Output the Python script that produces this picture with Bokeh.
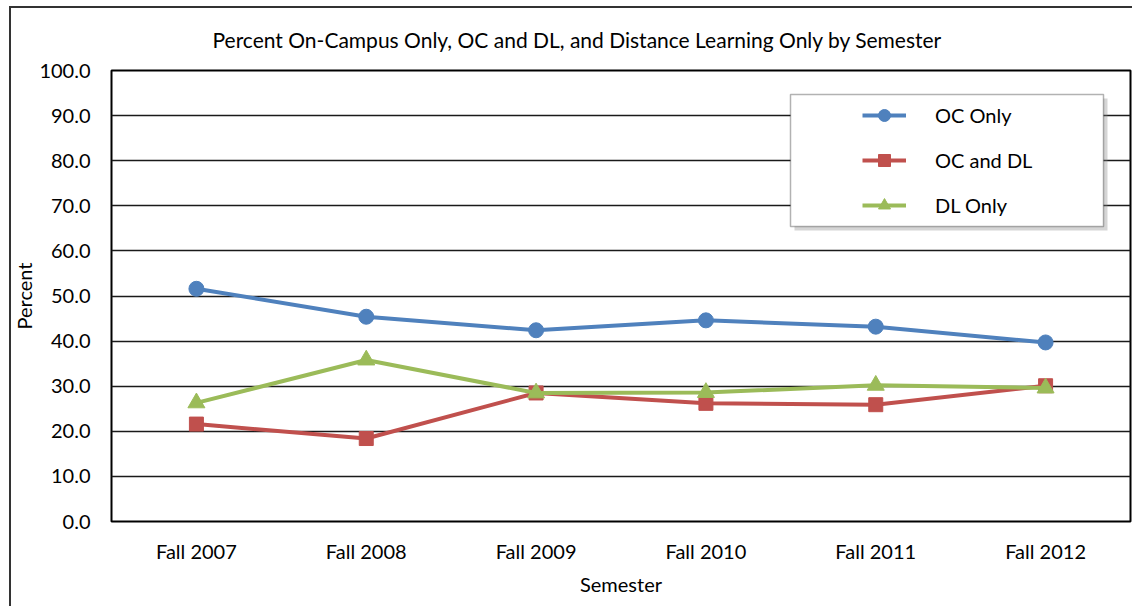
from bokeh.plotting import figure
from bokeh.models import (FactorRange, Range1d, NumeralTickFormatter, FixedTicker,
                          BoxAnnotation, Legend, InlineStyleSheet)
from bokeh.embed import file_html
from bokeh.resources import INLINE

# ---- data ----
semesters = ["Fall 2007", "Fall 2008", "Fall 2009", "Fall 2010", "Fall 2011", "Fall 2012"]
oc_only = [51.6, 45.4, 42.4, 44.6, 43.2, 39.7]
oc_and_dl = [21.6, 18.4, 28.5, 26.2, 25.9, 30.1]
dl_only = [26.3, 35.8, 28.5, 28.6, 30.2, 29.6]
y_ticks = [0, 10, 20, 30, 40, 50, 60, 70, 80, 90, 100]

title_text = "Percent On-Campus Only, OC and DL, and Distance Learning Only by Semester"
FONT = "Lato"
FS = "20px"

W, H = 1132, 606
L, R, T, B = 111, 2, 70, 85   # frame at page x 111..1130, y 70..521
FRAME_LEFT = L
FRAME_BOTTOM = H - B

border_css = InlineStyleSheet(css="""
:host { position: relative; overflow: hidden; }
:host::after { content: ''; position: absolute; left: 9px; top: 6px; right: -30px; bottom: -30px;
               border: 2px solid #333333; pointer-events: none; }
""")

p = figure(x_range=FactorRange(factors=semesters), y_range=Range1d(0, 100),
           width=W, height=H, output_backend="svg", toolbar_location=None,
           min_border_left=L, min_border_right=R, min_border_top=T, min_border_bottom=B,
           title=title_text, stylesheets=[border_css])

p.title.align = "left"
p.title.offset = 101
p.title.standoff = 38
p.title.text_font = FONT
p.title.text_font_size = "21px"
p.title.text_font_style = "normal"
p.title.text_color = "black"

p.background_fill_color = "white"
p.border_fill_color = "white"
p.outline_line_color = "black"
p.outline_line_width = 2

p.xgrid.grid_line_color = None
p.ygrid.grid_line_color = "#1a1a1a"
p.ygrid.grid_line_width = 1.5
p.yaxis.ticker = FixedTicker(ticks=y_ticks)
p.yaxis.formatter = NumeralTickFormatter(format="0.0")

for ax in (p.xaxis[0], p.yaxis[0]):
    ax.axis_line_color = None
    ax.major_tick_line_color = None
    ax.minor_tick_line_color = None
    ax.major_label_text_font = FONT
    ax.major_label_text_font_size = FS
    ax.major_label_text_color = "black"
    ax.axis_label_text_font = FONT
    ax.axis_label_text_font_size = FS
    ax.axis_label_text_font_style = "normal"
    ax.axis_label_text_color = "black"

p.xaxis.axis_label = "Semester"
p.yaxis.axis_label = "Percent"
p.xaxis.major_label_standoff = 11
p.xaxis.axis_label_standoff = 6
p.yaxis.major_label_standoff = 15
p.yaxis.axis_label_standoff = 0

colors = {"OC Only": "#4F81BD", "OC and DL": "#C0504D", "DL Only": "#9BBB59"}
series = [("OC Only", oc_only, "circle", 15),
          ("OC and DL", oc_and_dl, "square", 14),
          ("DL Only", dl_only, "triangle", 17)]

items = []
for name, vals, marker, size in series:
    c = colors[name]
    r1 = p.line(semesters, vals, line_color=c, line_width=4)
    r2 = p.scatter(semesters, vals, marker=marker, size=size, fill_color=c, line_color=c)
    items.append((name, [r1, r2]))

# legend box with shadow
lb_left, lb_right, lb_top, lb_bottom = 790, 1103, 94, 226
p.add_layout(BoxAnnotation(left=lb_left + 4 - FRAME_LEFT, right=lb_right + 4 - FRAME_LEFT,
                           top=FRAME_BOTTOM - lb_top - 4, bottom=FRAME_BOTTOM - lb_bottom - 4,
                           left_units="screen", right_units="screen",
                           top_units="screen", bottom_units="screen",
                           fill_color="#888888", fill_alpha=0.35, line_color=None))
p.add_layout(BoxAnnotation(left=lb_left - FRAME_LEFT, right=lb_right - FRAME_LEFT,
                           top=FRAME_BOTTOM - lb_top, bottom=FRAME_BOTTOM - lb_bottom,
                           left_units="screen", right_units="screen",
                           top_units="screen", bottom_units="screen",
                           fill_color="white", fill_alpha=1, line_color="black", line_width=1.5))

legend = Legend(items=items, location=(862 - FRAME_LEFT, FRAME_BOTTOM - 220),
                padding=0, margin=0, spacing=15, glyph_width=44, glyph_height=30,
                label_height=30, label_standoff=29, border_line_color=None,
                background_fill_alpha=0, label_text_font=FONT, label_text_font_size=FS,
                label_text_color="black")
p.add_layout(legend)

open("out.html", "w").write(file_html(p, INLINE))
